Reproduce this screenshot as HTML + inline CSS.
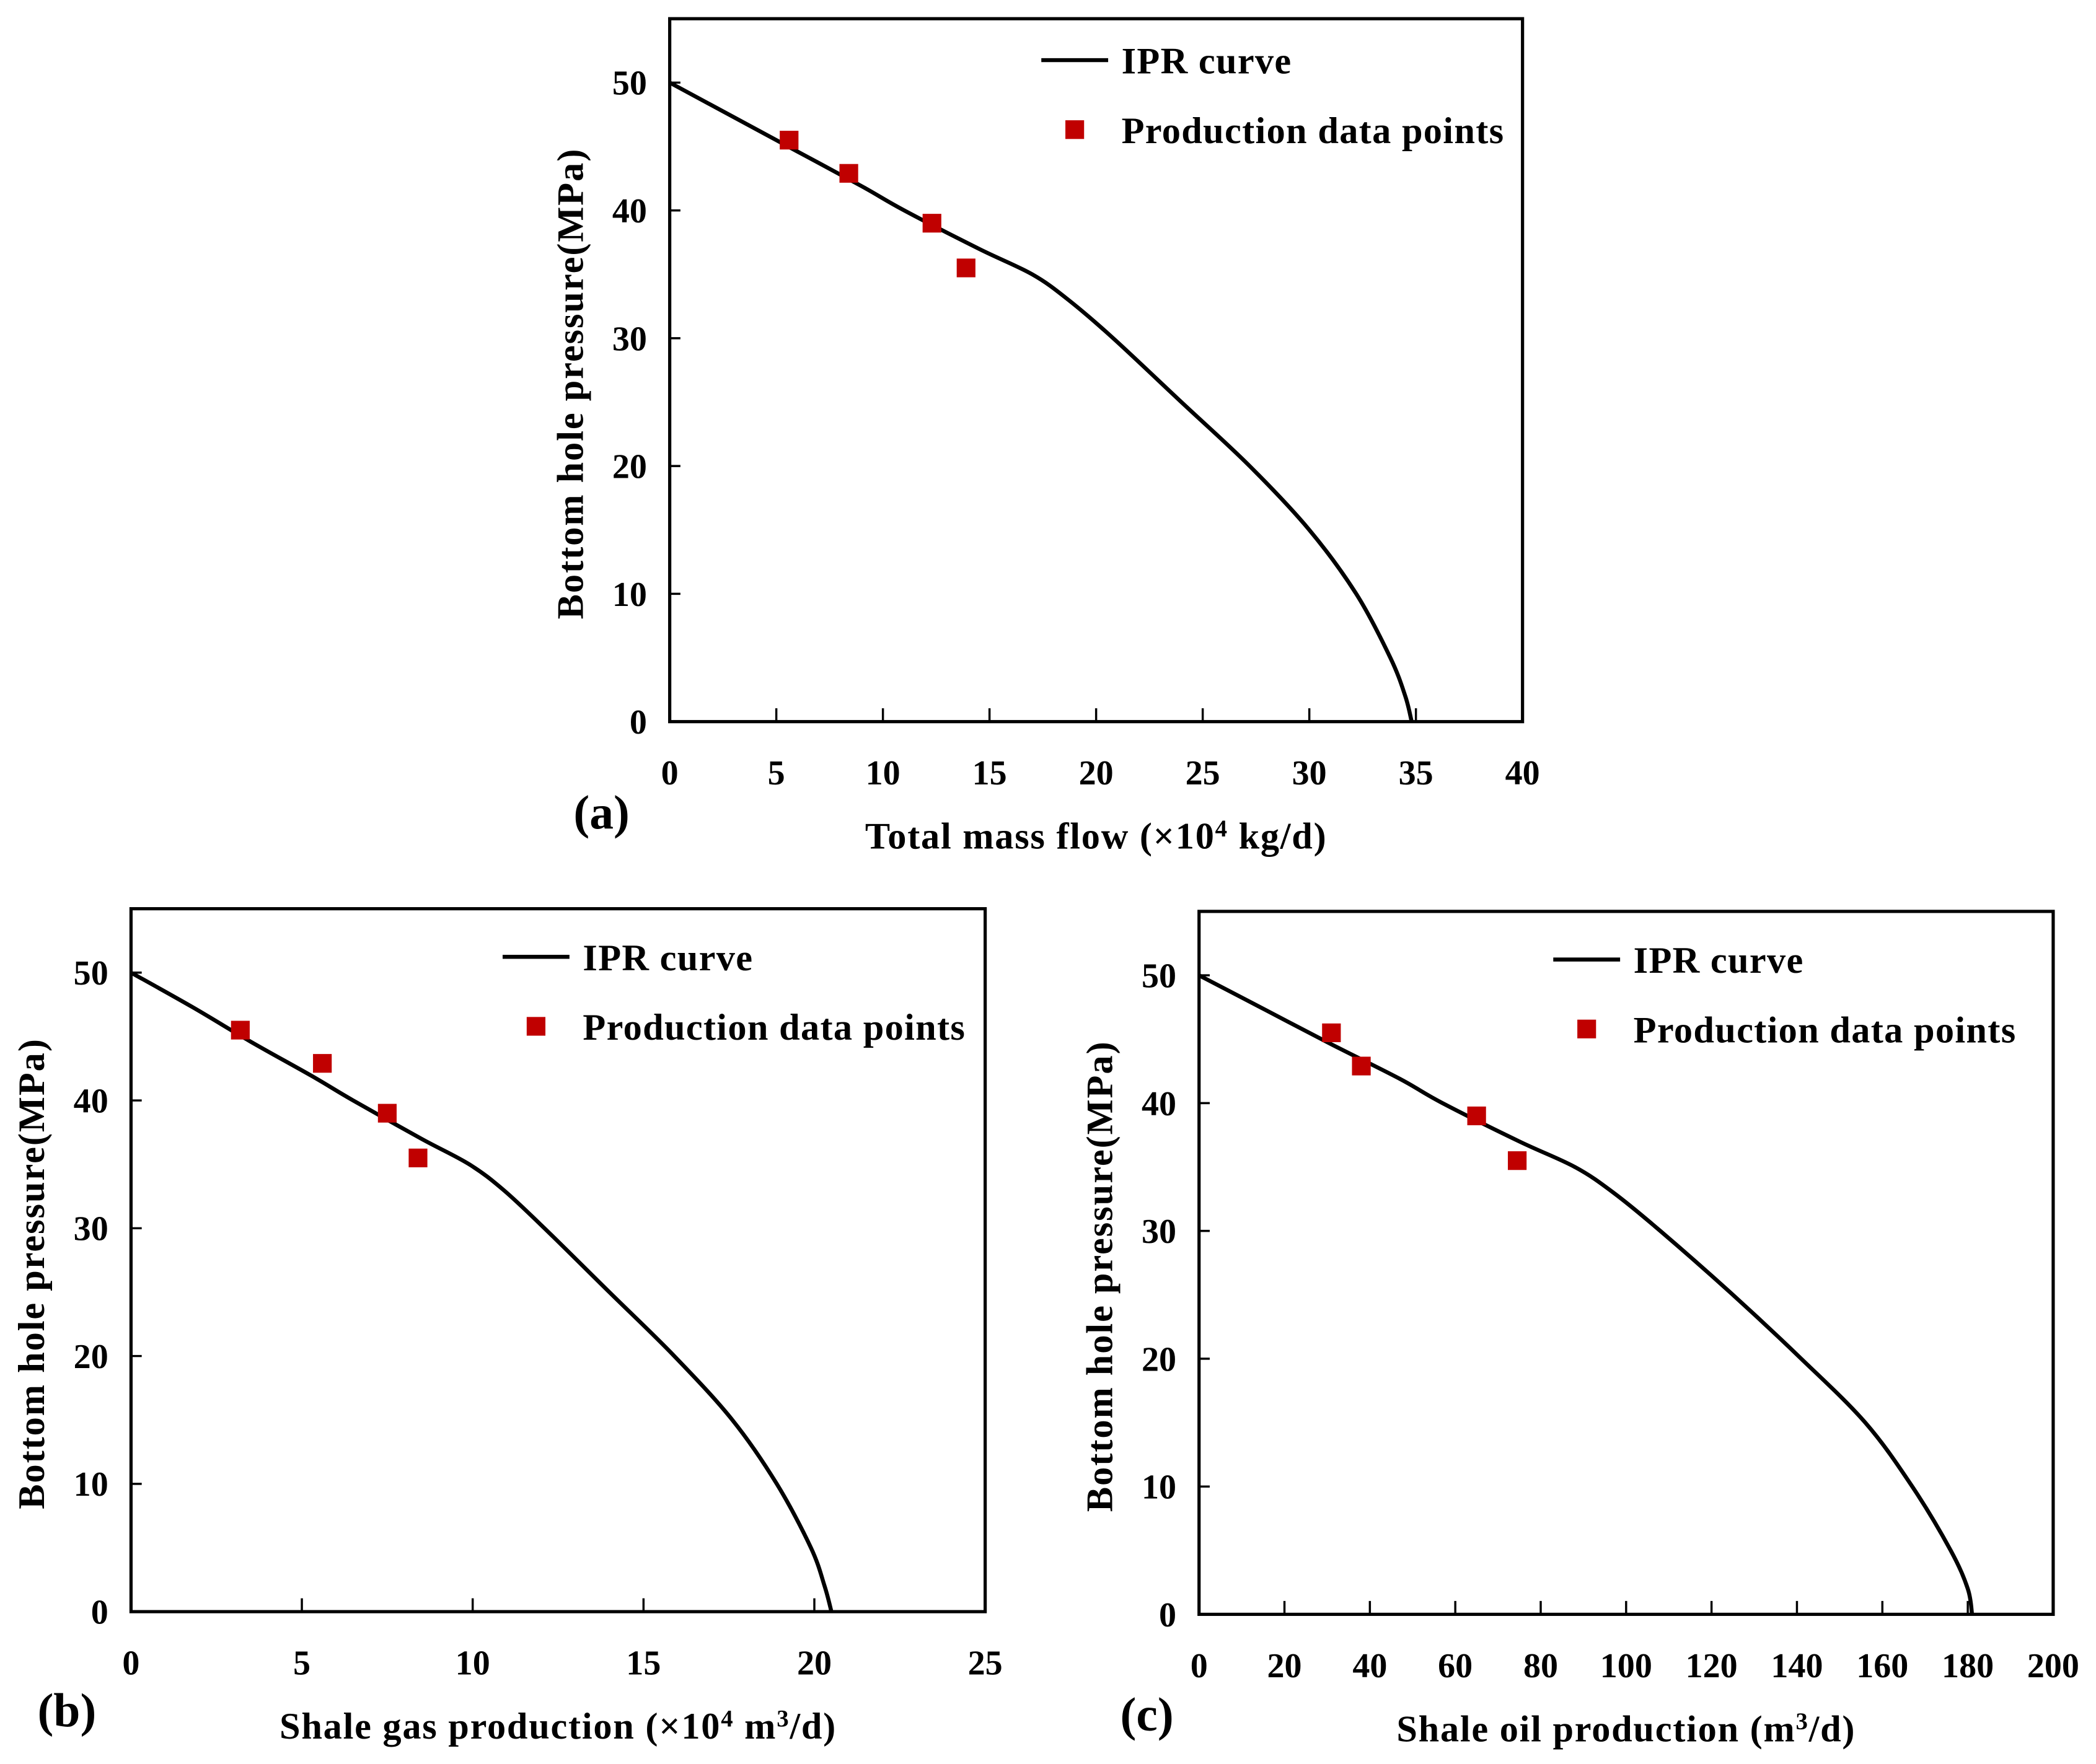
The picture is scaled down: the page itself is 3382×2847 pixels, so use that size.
<!DOCTYPE html>
<html><head><meta charset="utf-8"><style>
html,body{margin:0;padding:0;background:#fff}
svg{display:block}
text{font-family:"Liberation Serif",serif;font-weight:bold;fill:#000}
</style></head><body>
<svg id="fig" width="3382" height="2847" viewBox="0 0 1568 1320" xmlns="http://www.w3.org/2000/svg"></svg>
<script>
// Panel (a) data
const curveA_x = [0, 3, 6, 9, 11, 14.5, 17, 18.7, 20.8, 24, 27.2, 30, 32.2, 33.8, 34.5, 34.8];
const curveA_p = [50, 47.3, 44.6, 41.9, 40, 37, 35, 33, 30, 25, 20, 15, 10, 5, 2, 0];
const ptsA_x = [5.6, 8.4, 12.3, 13.9];
const ptsA_p = [45.5, 42.9, 39, 35.5];
const ticksA_x = [0,5,10,15,20,25,30,35,40];
// Panel (b) data
const curveB_x = [0, 1.8, 3.5, 5.3, 6.5, 8.5, 9.9, 10.9, 12.1, 14.0, 15.9, 17.6, 18.9, 19.9, 20.3, 20.5];
const curveB_p = [50, 47.3, 44.6, 41.9, 40, 37, 35, 33, 30, 25, 20, 15, 10, 5, 2, 0];
const ptsB_x = [3.2, 5.6, 7.5, 8.4];
const ptsB_p = [45.5, 42.9, 39, 35.5];
const ticksB_x = [0,5,10,15,20,25];
// Panel (c) data
const curveC_x = [0, 15.5, 31, 47, 57, 75, 88, 97, 108, 125, 141, 156, 167, 176, 180, 181];
const curveC_p = [50, 47.3, 44.6, 41.9, 40, 37, 35, 33, 30, 25, 20, 15, 10, 5, 2, 0];
const ptsC_x = [31, 38, 65, 74.5];
const ptsC_p = [45.5, 42.9, 39, 35.5];
const ticksC_x = [0,20,40,60,80,100,120,140,160,180,200];
const ticksY = [0,10,20,30,40,50];

const NS = "http://www.w3.org/2000/svg";
const svg = document.getElementById('fig');
function mk(tag, attrs, parent){const e=document.createElementNS(NS,tag);for(const k in attrs)e.setAttribute(k,attrs[k]);(parent||svg).appendChild(e);return e;}
function txt(s, attrs, parent){const e=mk('text',attrs,parent);e.textContent=s;return e;}

function panel(cfg){
  const g = mk('g',{});
  
  
  const {L,R,T,B,xmax} = cfg;
  const X = v => L + (R-L)*v/xmax;
  const Y = v => B - (B-T)*v/55;
  const frame = mk('rect',{x:L,y:T,width:R-L,height:B-T,fill:'none',stroke:'#000','stroke-width':2.4},g);
  
  
  cfg.xt.forEach(v=>{
    mk('line',{x1:X(v),x2:X(v),y1:B,y2:B-10,stroke:'#000','stroke-width':1.6},g);
    const t = txt(String(v),{x:X(v),y:B+47,'font-size':26,'text-anchor':'middle'},g);
    
    
  });
  ticksY.forEach(v=>{
    mk('line',{x1:L,x2:L+8,y1:Y(v),y2:Y(v),stroke:'#000','stroke-width':1.6},g);
    const t = txt(String(v),{x:L-17,y:Y(v)+9,'font-size':26,'text-anchor':'end'},g);
    
    
  });
  const P = cfg.cx.map((x,i)=>[X(x),Y(cfg.cp[i])]);
  let d = 'M'+P[0][0]+','+P[0][1];
  for(let i=0;i<P.length-1;i++){
    const p0=P[Math.max(0,i-1)],p1=P[i],p2=P[i+1],p3=P[Math.min(P.length-1,i+2)];
    const c1=[p1[0]+(p2[0]-p0[0])/6,p1[1]+(p2[1]-p0[1])/6];
    const c2=[p2[0]-(p3[0]-p1[0])/6,p2[1]-(p3[1]-p1[1])/6];
    d+=' C'+c1[0]+','+c1[1]+' '+c2[0]+','+c2[1]+' '+p2[0]+','+p2[1];
  }
  const path = mk('path',{d:d,fill:'none',stroke:'#000','stroke-width':3},g);
  
  
  cfg.px.forEach((x,i)=>{
    const r = mk('rect',{x:X(x)-7,y:Y(cfg.pp[i])-7,width:14,height:14,fill:'#c00000'},g);
    
    
  });
  const lg = mk('g',{},g);
  
  
  mk('line',{x1:cfg.lx,x2:cfg.lx+50,y1:cfg.ly,y2:cfg.ly,stroke:'#000','stroke-width':3},lg);
  const l1 = txt('IPR curve',{x:cfg.lx+60,y:cfg.ly+10,'font-size':28,'letter-spacing':0.6},lg);
  
  
  mk('rect',{x:cfg.lx+18,y:cfg.ly+45,width:14,height:14,fill:'#c00000'},lg);
  const l2 = txt('Production data points',{x:cfg.lx+60,y:cfg.ly+62,'font-size':28,'letter-spacing':0.6},lg);
  
  
  const xt = txt('',{x:(L+R)/2,y:B+95,'font-size':28,'letter-spacing':0.8,'text-anchor':'middle'},g);
  xt.innerHTML = cfg.xtitle;
  
  
  const yt = txt('Bottom hole pressure(MPa)',{x:0,y:0,'font-size':28,'letter-spacing':0.9,'text-anchor':'middle',transform:'translate('+(L-65)+','+((T+B)/2+10)+') rotate(-90)'},g);
  
  
  const pl = txt(cfg.label,{x:cfg.labx,y:cfg.laby,'font-size':36,'text-anchor':'middle'},g);
  
  
}

panel({id:'a',L:501,R:1139,T:14,B:540,xmax:40,xt:ticksA_x,cx:curveA_x,cp:curveA_p,px:ptsA_x,pp:ptsA_p,lx:779,ly:45,
  xtitle:'Total mass flow (×10<tspan font-size="18" dy="-9">4</tspan><tspan dy="9"> kg/d)</tspan>',label:'(a)',labx:450,laby:620});
panel({id:'b',L:98,R:737,T:680,B:1206,xmax:25,xt:ticksB_x,cx:curveB_x,cp:curveB_p,px:ptsB_x,pp:ptsB_p,lx:376,ly:716,
  xtitle:'Shale gas production (×10<tspan font-size="18" dy="-9">4</tspan><tspan dy="9"> m</tspan><tspan font-size="18" dy="-9">3</tspan><tspan dy="9">/d)</tspan>',label:'(b)',labx:50,laby:1292});
panel({id:'c',L:897,R:1536,T:682,B:1208,xmax:200,xt:ticksC_x,cx:curveC_x,cp:curveC_p,px:ptsC_x,pp:ptsC_p,lx:1162,ly:718,
  xtitle:'Shale oil production (m<tspan font-size="18" dy="-9">3</tspan><tspan dy="9">/d)</tspan>',label:'(c)',labx:858,laby:1295});
</script>
</body></html>
